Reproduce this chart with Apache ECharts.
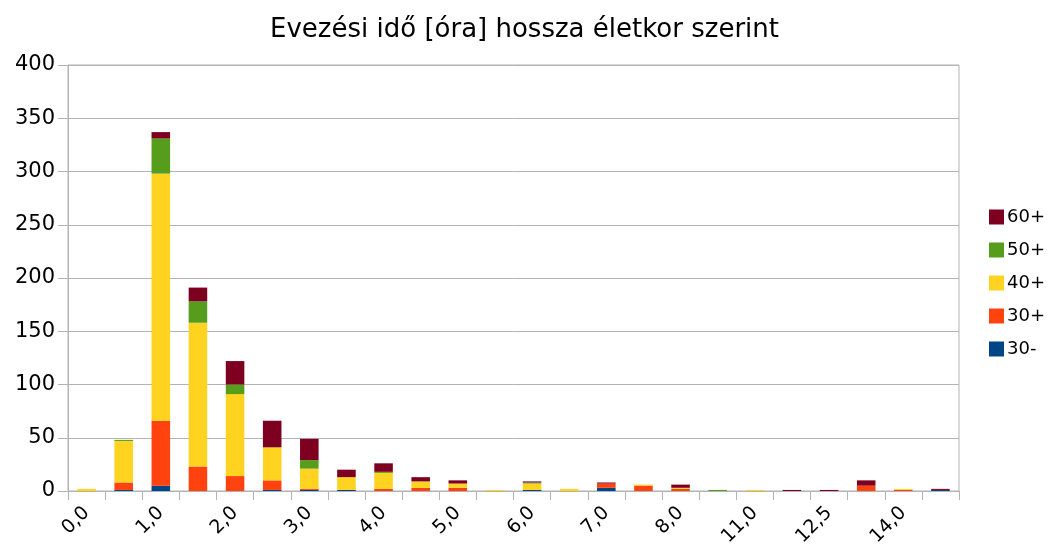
<!DOCTYPE html>
<html>
<head>
<meta charset="utf-8">
<script src="https://cdn.jsdelivr.net/npm/echarts@6/dist/echarts.min.js"></script>
<style>
  html, body { margin: 0; padding: 0; background: #fff; }
  #chart { width: 1049px; height: 551px; }
</style>
</head>
<body>
<div id="chart"></div>
<script>
// kategóriák (óra)
const categories = ['0,0', '0,5', '1,0', '1,5', '2,0', '2,5', '3,0', '3,5', '4,0', '4,5', '5,0', '5,5',
  '6,0', '6,5', '7,0', '7,5', '8,0', '9,0', '11,0', '12,0', '12,5', '13,0', '14,0', '15,0']

// korcsoportok szerinti értékek
const age30minus = [0, 1, 5, 0, 0, 1, 1, 1, 0, 0, 0, 0, 1, 0, 3, 0, 0, 0, 0, 0, 0, 0, 0, 1]
const age30plus = [0, 7, 61, 23, 14, 9, 1, 0, 2, 3, 3, 0, 0, 0, 4, 5, 2, 0, 0, 0, 0, 5, 1, 0]
const age40plus = [2, 39, 232, 135, 77, 31, 19, 12, 15, 6, 4, 1, 6, 2, 0, 1, 1, 0, 1, 0, 0, 0, 1, 0]
const age50plus = [0, 1, 33, 20, 9, 0, 8, 0, 1, 0, 0, 0, 1, 0, 0, 0, 0, 1, 0, 0, 0, 0, 0, 0]
const age60plus = [0, 0, 6, 13, 22, 25, 20, 7, 8, 4, 3, 0, 1, 0, 1, 0, 3, 0, 0, 1, 1, 5, 0, 1]

const seriesNames = ['30-', '30+', '40+', '50+', '60+']
const seriesData = [age30minus, age30plus, age40plus, age50plus, age60plus]
const seriesColors = ['#004586', '#ff420e', '#ffd320', '#579d1c', '#7e0021']

const gray = '#b3b3b3'
const font = 'DejaVu Sans, Liberation Sans, sans-serif'

const chart = echarts.init(document.getElementById('chart'))

chart.setOption({
  animation: false,
  title: {
    text: 'Evezési idő [óra] hossza életkor szerint',
    left: 'center',
    top: 12,
    textStyle: { fontFamily: font, fontSize: 26, fontWeight: 'normal', color: '#000' }
  },
  legend: {
    orient: 'vertical',
    left: 984,
    top: 203,
    itemWidth: 15,
    itemHeight: 15,
    itemGap: 15,
    icon: 'rect',
    data: ['60+', '50+', '40+', '30+', '30-'],
    textStyle: { fontFamily: font, fontSize: 18, color: '#000', padding: [0, 0, 0, -2] }
  },
  grid: {
    left: 68, right: 90, top: 65, bottom: 60,
    show: true, borderColor: gray, borderWidth: 1
  },
  xAxis: {
    type: 'category',
    data: categories,
    axisLine: { lineStyle: { color: gray } },
    axisTick: { show: true, interval: 0, length: 9, lineStyle: { color: gray } },
    axisLabel: {
      interval: 1,
      rotate: 45,
      margin: 19,
      fontFamily: font,
      fontSize: 19,
      color: '#000'
    }
  },
  yAxis: {
    type: 'value',
    min: 0,
    max: 400,
    interval: 50,
    axisLine: { show: true, lineStyle: { color: gray } },
    axisTick: { show: true, length: 10, lineStyle: { color: gray } },
    splitLine: { lineStyle: { color: gray } },
    axisLabel: { fontFamily: font, fontSize: 21, color: '#000', margin: 13 }
  },
  series: seriesNames.map((name, i) => ({
    name: name,
    type: 'bar',
    stack: 'total',
    barWidth: '50%',
    data: seriesData[i],
    itemStyle: { color: seriesColors[i] }
  }))
})
</script>
</body>
</html>
